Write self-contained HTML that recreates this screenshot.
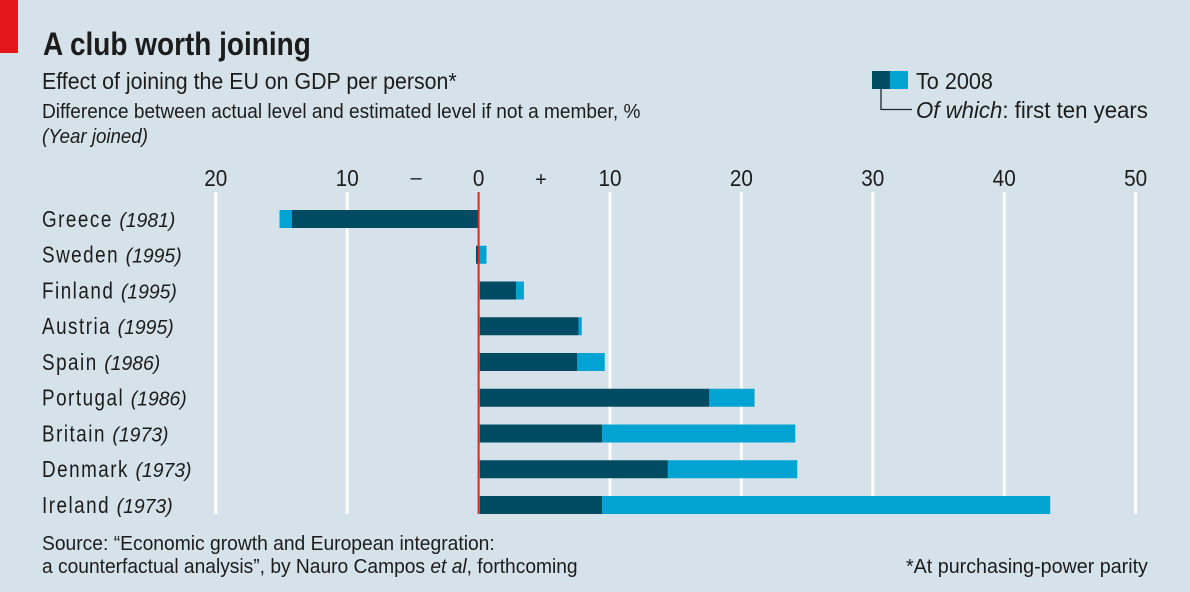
<!DOCTYPE html>
<html lang="en">
<head>
<meta charset="utf-8">
<title>A club worth joining</title>
<style>
html,body{margin:0;padding:0;background:#d5e2e9;}
svg{display:block;font-family:"Liberation Sans",sans-serif;fill:#1c1c1c;}
</style>
</head>
<body>
<svg id="chart" xmlns="http://www.w3.org/2000/svg" width="1190" height="592" viewBox="0 0 1190 592">
  <rect x="0" y="0" width="1190" height="592" fill="#d5e2e9"/>
  <rect x="0" y="0" width="18" height="53" fill="#e3171b"/>
  <text class="fit" data-w="268" data-x="43" y="55" font-size="32" font-weight="bold">A club worth joining</text>
  <text class="fit" data-w="415" data-x="42" y="89" font-size="23">Effect of joining the EU on GDP per person*</text>
  <text class="fit" data-w="599" data-x="42" y="118" font-size="20">Difference between actual level and estimated level if not a member, %</text>
  <text class="fit" data-w="106" data-x="42" y="143" font-size="20" font-style="italic">(Year joined)</text>

  <g>
    <rect x="872" y="71" width="18" height="18" fill="#004a62"/>
    <rect x="890" y="71" width="18" height="18" fill="#00a3d1"/>
    <path d="M881 89V109.5H912" fill="none" stroke="#1c2a30" stroke-width="1.3"/>
    <text class="fit" data-w="77" data-x="916" y="89" font-size="23">To 2008</text>
    <text class="fit" data-w="232" data-x="916" y="118" font-size="23"><tspan font-style="italic">Of which</tspan>: first ten years</text>
  </g>

  <g id="grid"></g>
  <g id="ticks"></g>
  <text x="416" y="184" font-size="20" text-anchor="middle">–</text>
  <text x="541" y="186" font-size="20" text-anchor="middle">+</text>
  <g id="bars"></g>
  <rect x="477.6" y="192" width="2" height="322" fill="#e0261a"/>
  <g id="labels"></g>

  <text class="fit" data-w="453" data-x="42" y="550" font-size="20">Source: “Economic growth and European integration:</text>
  <text class="fit" data-w="536" data-x="42" y="573" font-size="20">a counterfactual analysis”, by Nauro Campos <tspan font-style="italic">et al</tspan>, forthcoming</text>
  <text class="fit" data-w="242" data-x="906" y="573" font-size="20">*At purchasing-power parity</text>
</svg>
<script>
const countries = ["Greece","Sweden","Finland","Austria","Spain","Portugal","Britain","Denmark","Ireland"];
const years = ["1981","1995","1995","1995","1986","1986","1973","1973","1973"];
const firstTenYears = [-14.2,-0.2,2.85,7.6,7.5,17.55,9.4,14.4,9.4];
const toYear2008 = [-15.15,0.6,3.45,7.85,9.6,21,24.1,24.25,43.5];
const tickValues = [-20,-10,0,10,20,30,40,50];
const tickLabels = ["20","10","0","10","20","30","40","50"];

const NS = "http://www.w3.org/2000/svg";
const x = v => 478.6 + v * 13.14;
const rowY = i => 210 + i * 35.75;
const BAR_H = 18;
const BAR_GAP = 1.2;
const NAME_SCALE = 0.82;
const NAME_SPACING = 1.83;
const YEAR_SCALE = 0.97;
const LABEL_X = 42;
const LABEL_GAP = 8;

function mk(tag, parent, attrs) {
  const el = document.createElementNS(NS, tag);
  for (const k in attrs) el.setAttribute(k, attrs[k]);
  parent.appendChild(el);
  return el;
}

const grid = document.getElementById("grid");
const ticks = document.getElementById("ticks");
tickValues.forEach((v, i) => {
  if (v !== 0) {
    const line = mk("rect", grid, {x: x(v) - 1.5, y: 192, width: 3, height: 322, fill: "#ffffff"});
    
    
  }
  const t = mk("text", ticks, {y: 186, "font-size": 23, "text-anchor": "middle"});
  
  
  t.textContent = tickLabels[i];
  t.setAttribute("transform", "translate(" + x(v) + ",0) scale(0.9,1)");
});

const bars = document.getElementById("bars");
function seg(from, to, i, fill) {
  const a = x(from), b = x(to);
  return mk("rect", bars, {x: Math.min(a, b), y: rowY(i), width: Math.abs(b - a), height: BAR_H, fill: fill});
}
countries.forEach((c, i) => {
  const f = firstTenYears[i], tot = toYear2008[i];
  const sameSign = f * tot > 0;
  const positive = f > 0;
  const start = (positive ? BAR_GAP : 0) / 13.14;
  const light = seg(sameSign ? f : 0, tot, i, "#00a3d1");
  
  
  const dark = seg(start, f, i, "#004a62");
  
  
});

const labels = document.getElementById("labels");
countries.forEach((c, i) => {
  const baseline = rowY(i) + 17;
  const n = mk("text", labels, {y: baseline, "font-size": 23, "letter-spacing": NAME_SPACING});
  
  
  n.textContent = c;
  n.setAttribute("transform", "translate(" + LABEL_X + ",0) scale(" + NAME_SCALE + ",1)");
  const nameEnd = LABEL_X + (n.getComputedTextLength() - NAME_SPACING) * NAME_SCALE;
  const y = mk("text", labels, {y: baseline, "font-size": 20, "font-style": "italic"});
  
  
  y.textContent = "(" + years[i] + ")";
  y.setAttribute("transform", "translate(" + (nameEnd + LABEL_GAP) + ",0) scale(" + YEAR_SCALE + ",1)");
});

document.querySelectorAll("text.fit").forEach(el => {
  const w = el.getBBox().width;
  const s = parseFloat(el.getAttribute("data-w")) / w;
  el.setAttribute("transform", "translate(" + el.getAttribute("data-x") + ",0) scale(" + s + ",1)");
});
</script>
</body>
</html>
